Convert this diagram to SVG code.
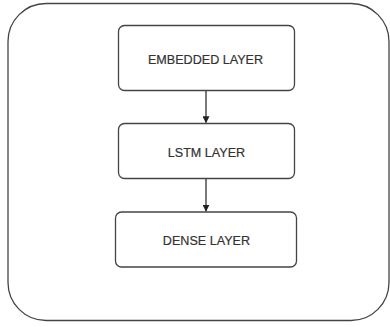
<svg xmlns="http://www.w3.org/2000/svg" width="390" height="327" viewBox="0 0 390 327">
<defs>
<style>
.box{fill:#fff;stroke:#444;stroke-width:1.3}
.lbl{font-family:"Liberation Sans",Arial,sans-serif;font-size:12.6px;fill:#333;text-anchor:middle;stroke:#333;stroke-width:0.2}
.edge{stroke:#222;stroke-width:1.2;fill:none;marker-end:url(#arr)}
</style>
<marker id="arr" viewBox="0 0 10 10" refX="9" refY="5" markerWidth="7" markerHeight="7" orient="auto" markerUnits="userSpaceOnUse">
<path d="M0,0 L10,5 L0,10 z" fill="#222"/>
</marker>
</defs>
<rect width="390" height="327" fill="#fff"/>
<g id="container"><rect x="8" y="3.5" width="381" height="317" rx="38" ry="38" fill="#fff" stroke="#444" stroke-width="1.3"/></g>
<g id="embedded"><rect class="box" x="118.5" y="25.5" width="176" height="65" rx="6"/><text class="lbl" x="205.5" y="63.5">EMBEDDED LAYER</text></g>
<g id="lstm"><rect class="box" x="118.5" y="123.5" width="176" height="55" rx="6"/><text class="lbl" x="206.5" y="157">LSTM LAYER</text></g>
<g id="dense"><rect class="box" x="115.5" y="212" width="181" height="55" rx="6"/><text class="lbl" x="206.5" y="245">DENSE LAYER</text></g>
<g id="connectors">
<line class="edge" x1="206" y1="91" x2="206" y2="122.5"/>
<line class="edge" x1="206" y1="179" x2="206" y2="211"/>
</g>
</svg>
